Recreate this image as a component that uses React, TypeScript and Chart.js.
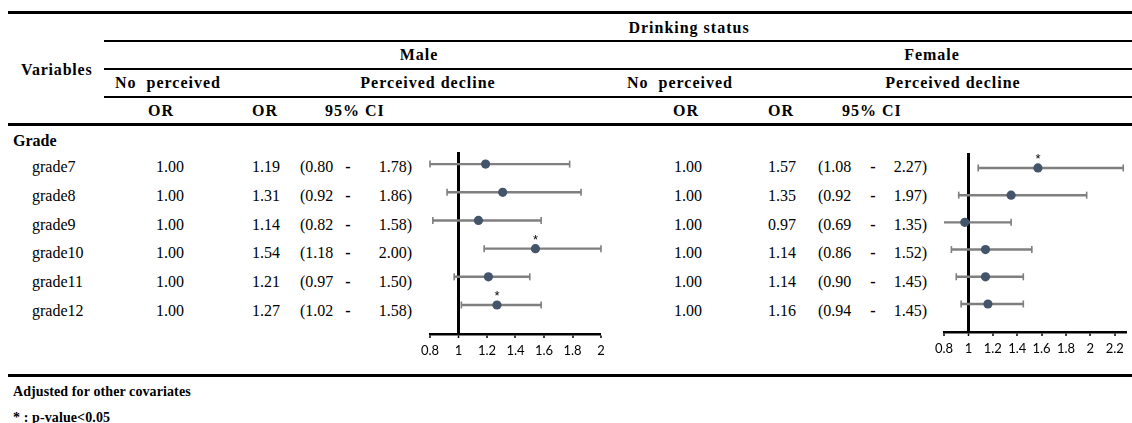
import React, { useEffect, useRef } from 'react';
import { Chart, registerables } from 'chart.js';

Chart.register(...registerables);

// ---------- data ----------
const grades = ['grade7', 'grade8', 'grade9', 'grade10', 'grade11', 'grade12'];

const maleRefOR = ['1.00', '1.00', '1.00', '1.00', '1.00', '1.00'];
const maleOR = [1.19, 1.31, 1.14, 1.54, 1.21, 1.27];
const maleLo = [0.8, 0.92, 0.82, 1.18, 0.97, 1.02];
const maleHi = [1.78, 1.86, 1.58, 2.0, 1.5, 1.58];
const maleSig = [false, false, false, true, false, true];

const femaleRefOR = ['1.00', '1.00', '1.00', '1.00', '1.00', '1.00'];
const femaleOR = [1.57, 1.35, 0.97, 1.14, 1.14, 1.16];
const femaleLo = [1.08, 0.92, 0.69, 0.86, 0.9, 0.94];
const femaleHi = [2.27, 1.97, 1.35, 1.52, 1.45, 1.45];
const femaleSig = [true, false, false, false, false, false];

const maleTickLabels = ['0.8', '1', '1.2', '1.4', '1.6', '1.8', '2'];
const femaleTickLabels = ['0.8', '1', '1.2', '1.4', '1.6', '1.8', '2', '2.2'];

const maleAxisMax = 2.0;
const femaleAxisMax = 2.3;

// ---------- helpers ----------
const fmt = (v: number) => v.toFixed(2);

const W = 1132;

function Txt(props: {
  x: number; y: number; text: string; align?: 'left' | 'center' | 'right';
  bold?: boolean; size?: number; ls?: number;
}) {
  const { x, y, text, align = 'left', bold = false, size = 16, ls = 0 } = props;
  const style: React.CSSProperties = {
    position: 'absolute',
    top: y,
    whiteSpace: 'pre',
    fontSize: size,
    fontWeight: bold ? 700 : 400,
    letterSpacing: ls,
    lineHeight: `${size}px`,
  };
  if (align === 'left') {
    style.left = x;
    style.transform = 'translateY(-50%)';
  } else if (align === 'center') {
    style.left = x;
    style.transform = 'translate(-50%,-50%)';
  } else {
    style.right = W - x;
    style.transform = 'translateY(-50%)';
  }
  return <div style={style}>{text}</div>;
}

function HLine({ x1, x2, y, w }: { x1: number; x2: number; y: number; w: number }) {
  return (
    <div
      style={{ position: 'absolute', left: x1, top: y - w / 2, width: x2 - x1, height: w, background: '#000' }}
    />
  );
}

const asteriskPlugin = {
  id: 'asterisks',
  afterDatasetsDraw(chart: any, _args: any, opts: any) {
    const { ctx, scales } = chart;
    const sig: boolean[] = opts.sig || [];
    const or: number[] = opts.or || [];
    ctx.save();
    ctx.fillStyle = '#000';
    ctx.font = '13px "Liberation Sans", Arial, sans-serif';
    ctx.textAlign = 'center';
    ctx.textBaseline = 'alphabetic';
    sig.forEach((s, i) => {
      if (!s) return;
      const px = scales.x.getPixelForValue(or[i]);
      const py = scales.y.getPixelForValue(i);
      ctx.fillText('*', px, py - 5);
    });
    ctx.restore();
  },
};

function ForestChart(props: {
  or: number[]; lo: number[]; hi: number[]; sig: boolean[];
  tickLabels: string[]; xMax: number; yMin: number; yMax: number;
  left: number; top: number; width: number; height: number;
  pad: { left: number; right: number; top: number; bottom: number };
}) {
  const ref = useRef<HTMLCanvasElement>(null);
  const { or, lo, hi, sig, tickLabels, xMax, yMin, yMax, left, top, width, height, pad } = props;
  useEffect(() => {
    const tickVals = tickLabels.map((t) => parseFloat(t));
    const chart = new Chart(ref.current as HTMLCanvasElement, {
      type: 'scatter',
      data: {
        datasets: [
          {
            type: 'scatter',
            data: or.map((v, i) => ({ x: v, y: i })),
            pointRadius: 4.6,
            pointHoverRadius: 4.6,
            backgroundColor: '#44546A',
            borderColor: '#44546A',
            borderWidth: 0,
            order: 0,
          } as any,
          {
            type: 'scatter',
            data: [...lo.map((v, i) => ({ x: v, y: i })), ...hi.map((v, i) => ({ x: v, y: i }))],
            pointStyle: 'line',
            rotation: 90,
            pointRadius: 3.5,
            pointHoverRadius: 3.5,
            borderColor: '#7F7F7F',
            backgroundColor: '#7F7F7F',
            borderWidth: 1.6,
            clip: 2,
            order: 1,
          } as any,
          {
            type: 'bar',
            indexAxis: 'y',
            data: lo.map((v, i) => ({ x: [v, hi[i]], y: i })),
            backgroundColor: '#7F7F7F',
            borderWidth: 0,
            barThickness: 1.8,
            order: 2,
          } as any,
        ],
      },
      options: {
        responsive: false,
        animation: false,
        events: [],
        layout: { padding: pad },
        plugins: {
          legend: { display: false },
          tooltip: { enabled: false },
          asterisks: { sig, or },
        } as any,
        scales: {
          x: {
            type: 'linear',
            min: 0.8,
            max: xMax,
            offset: false,
            afterBuildTicks: (scale: any) => {
              scale.ticks = tickVals.map((v) => ({ value: v }));
            },
            afterFit: (scale: any) => {
              scale.height = 38;
            },
            ticks: {
              autoSkip: false,
              maxRotation: 0,
              padding: 5,
              color: '#000',
              font: { family: 'Lato, "Liberation Sans", sans-serif', size: 13 },
              callback: (_v: any, i: number) => tickLabels[i],
            },
            grid: {
              offset: false,
              drawOnChartArea: true,
              color: (c: any) => (c.tick && Math.abs(c.tick.value - 1) < 1e-9 ? '#000' : 'rgba(0,0,0,0)'),
              lineWidth: (c: any) => (c.tick && Math.abs(c.tick.value - 1) < 1e-9 ? 3 : 0),
              tickColor: '#000',
              tickWidth: 1.5,
              tickLength: 4,
            },
            border: { display: true, color: '#000', width: 2.5 },
          },
          y: {
            type: 'linear',
            min: yMin,
            max: yMax,
            reverse: true,
            offset: false,
            grid: { offset: false },
            display: false,
          },
        },
      } as any,
      plugins: [asteriskPlugin],
    });
    return () => chart.destroy();
  }, []);
  return (
    <canvas
      ref={ref}
      width={width}
      height={height}
      style={{ position: 'absolute', left, top, width, height }}
    />
  );
}

export default function App() {
  const rowY = (i: number) => 167 + 28.8 * i;
  return (
    <div
      style={{
        position: 'absolute',
        left: 0,
        top: 0,
        width: W,
        height: 423,
        overflow: 'hidden',
        background: '#fff',
        color: '#000',
        fontFamily: '"Liberation Serif", "Times New Roman", serif',
      }}
    >
      <ForestChart
        or={maleOR} lo={maleLo} hi={maleHi} sig={maleSig}
        tickLabels={maleTickLabels} xMax={maleAxisMax} yMin={-0.43} yMax={6.03}
        left={415} top={140} width={215} height={232}
        pad={{ left: 15, right: 29, top: 12, bottom: 0 }}
      />
      <ForestChart
        or={femaleOR} lo={femaleLo} hi={femaleHi} sig={femaleSig}
        tickLabels={femaleTickLabels} xMax={femaleAxisMax} yMin={-0.55} yMax={6.03}
        left={930} top={140} width={202} height={230}
        pad={{ left: 14, right: 2, top: 13, bottom: 0 }}
      />

      {/* rules */}
      <HLine x1={8} x2={W} y={12} w={3} />
      <HLine x1={104} x2={W} y={41} w={2} />
      <HLine x1={104} x2={W} y={69} w={2} />
      <HLine x1={104} x2={W} y={97} w={2} />
      <HLine x1={8} x2={W} y={124.5} w={3} />
      <HLine x1={8} x2={W} y={375.5} w={3} />

      {/* header */}
      <Txt x={689} y={28} text="Drinking status" align="center" bold ls={1} />
      <Txt x={21} y={70} text="Variables" bold ls={0.8} />
      <Txt x={419} y={55} text="Male" align="center" bold ls={1} />
      <Txt x={932} y={55} text="Female" align="center" bold ls={1} />
      <Txt x={115} y={83} text="No  perceived" bold ls={1} />
      <Txt x={428} y={83} text="Perceived decline" align="center" bold ls={1} />
      <Txt x={627} y={83} text="No  perceived" bold ls={1} />
      <Txt x={953} y={83} text="Perceived decline" align="center" bold ls={1} />
      <Txt x={161} y={111} text="OR" align="center" bold ls={1} />
      <Txt x={265} y={111} text="OR" align="center" bold ls={1} />
      <Txt x={325} y={111} text="95% CI" bold ls={1} />
      <Txt x={686} y={111} text="OR" align="center" bold ls={1} />
      <Txt x={781} y={111} text="OR" align="center" bold ls={1} />
      <Txt x={842} y={111} text="95% CI" bold ls={1} />

      <Txt x={13} y={141} text="Grade" bold />

      {grades.map((g, i) => (
        <React.Fragment key={g}>
          <Txt x={32} y={rowY(i)} text={g} />
          <Txt x={170} y={rowY(i)} text={maleRefOR[i]} align="center" />
          <Txt x={266} y={rowY(i)} text={fmt(maleOR[i])} align="center" />
          <Txt x={300} y={rowY(i)} text={'(' + fmt(maleLo[i])} />
          <Txt x={348} y={rowY(i)} text="-" align="center" bold />
          <Txt x={412} y={rowY(i)} text={fmt(maleHi[i]) + ')'} align="right" />
          <Txt x={688} y={rowY(i)} text={femaleRefOR[i]} align="center" />
          <Txt x={782} y={rowY(i)} text={fmt(femaleOR[i])} align="center" />
          <Txt x={818} y={rowY(i)} text={'(' + fmt(femaleLo[i])} />
          <Txt x={873} y={rowY(i)} text="-" align="center" bold />
          <Txt x={927} y={rowY(i)} text={fmt(femaleHi[i]) + ')'} align="right" />
        </React.Fragment>
      ))}

      <Txt x={13} y={392} text="Adjusted for other covariates" bold size={14} ls={0.1} />
      <Txt x={13} y={418} text="* : p-value<0.05" bold size={14} ls={0.1} />
    </div>
  );
}
